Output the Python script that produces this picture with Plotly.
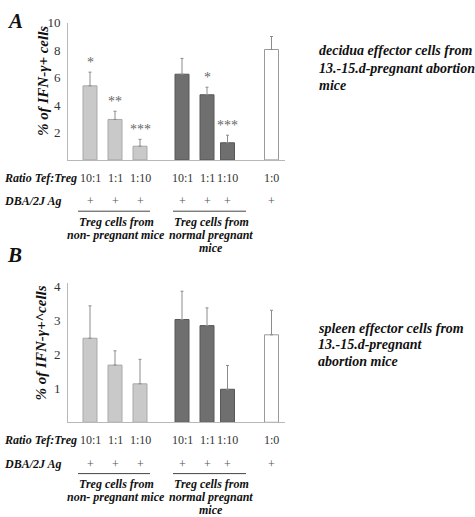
import plotly.graph_objects as go

# ---------------- data ----------------
ratio_labels = ["10:1", "1:1", "1:10", "10:1", "1:1", "1:10", "1:0"]
ag_labels = ["+", "+", "+", "+", "+", "+", "+"]
groups = ["non-pregnant", "non-pregnant", "non-pregnant",
          "normal pregnant", "normal pregnant", "normal pregnant", "control"]

a_values = [5.4, 2.95, 1.0, 6.25, 4.75, 1.25, 8.05]
a_errors = [1.0, 0.6, 0.5, 1.15, 0.55, 0.55, 0.95]
a_stars = ["*", "**", "***", "", "*", "***", ""]

b_values = [2.47, 1.68, 1.13, 3.02, 2.84, 0.97, 2.57]
b_errors = [0.95, 0.42, 0.72, 0.83, 0.52, 0.70, 0.72]

a_ticks = [2, 4, 6, 8, 10]
b_ticks = [1, 2, 3, 4]

a_title = "% of IFN-γ+ cells"
b_title = "% of IFN-γ+^cells"
a_side = ["decidua effector cells from", "13.-15.d-pregnant abortion", "mice"]
b_side = ["spleen effector cells from", "13.-15.d-pregnant", "abortion mice"]
group1_lines = ["Treg cells from", "non- pregnant mice"]
group2_lines = ["Treg cells from", "normal pregnant", "mice"]

# ---------------- layout helpers ----------------
W, H = 475, 517
slot_pos = [0, 1, 2, 3.68, 4.68, 5.5, 7.26]   # bar slot positions on x axis
color_map = {"non-pregnant": "#c9c9c9", "normal pregnant": "#6f6f6f", "control": "#ffffff"}
edge_map = {"non-pregnant": "#a9a9a9", "normal pregnant": "#585858", "control": "#9a9a9a"}
SERIF = "Liberation Serif"


def py(p):
    return 1 - p / H


def px(p):
    return p / W


fig = go.Figure()

panels = [
    dict(vals=a_values, errs=a_errors, xa="x", ya="y"),
    dict(vals=b_values, errs=b_errors, xa="x2", ya="y2"),
]
for p in panels:
    fig.add_trace(go.Bar(
        x=slot_pos, y=p["vals"], width=0.56,
        marker=dict(color=[color_map[g] for g in groups],
                    line=dict(color=[edge_map[g] for g in groups], width=1)),
        error_y=dict(type="data", array=p["errs"], arrayminus=[0] * len(p["errs"]),
                     symmetric=False, color="#8c8c8c", thickness=1, width=1.5),
        xaxis=p["xa"], yaxis=p["ya"], showlegend=False, hoverinfo="skip",
    ))

xdom = [px(68), px(285)]
xrange_ = [-0.88, 7.8]
axis_common = dict(showgrid=False, zeroline=False, showline=True, linecolor="#b8b8b8", linewidth=1)

fig.update_layout(
    width=W, height=H,
    margin=dict(l=0, r=0, t=0, b=0),
    paper_bgcolor="white", plot_bgcolor="white",
    bargap=0,
    font=dict(family=SERIF),
    xaxis=dict(domain=xdom, range=xrange_, showticklabels=False, ticks="", anchor="y", **axis_common),
    xaxis2=dict(domain=xdom, range=xrange_, showticklabels=False, ticks="", anchor="y2", **axis_common),
    yaxis=dict(domain=[py(155), py(16)], range=[0, 10], tickvals=a_ticks, anchor="x",
               tickfont=dict(family=SERIF, size=13, color="#333"), ticks="", ticklabelstandoff=4,
               **axis_common),
    yaxis2=dict(domain=[py(421), py(279.5)], range=[0, 4.1], tickvals=b_ticks, anchor="x2",
                tickfont=dict(family=SERIF, size=13, color="#333"), ticks="", ticklabelstandoff=4,
                **axis_common),
)

ann = []


def text(x, y, s, size=12, xanchor="center", angle=0):
    ann.append(dict(x=x, y=y, text="<b><i>" + s + "</i></b>", xref="paper", yref="paper",
                    showarrow=False, font=dict(family=SERIF, size=size, color="#111"),
                    xanchor=xanchor, yanchor="middle", textangle=angle))


# panel letters
text(px(5), py(14), "A", size=21, xanchor="left")
text(px(5), py(251), "B", size=21, xanchor="left")

# y axis titles
text(px(43), py(75), a_title, size=15, angle=-90)
text(px(41), py(341), b_title, size=15, angle=-90)

# stars above error bars (panel A)
for xs, v, e, s in zip(slot_pos, a_values, a_errors, a_stars):
    if s:
        ann.append(dict(x=xs, y=v + e, xref="x", yref="y", text=s, showarrow=False,
                        yanchor="bottom", yshift=0,
                        font=dict(family=SERIF, size=14, color="#666")))

for base in (0, 266):
    xa = "x" if base == 0 else "x2"
    # row labels
    text(px(2), py(173 + base), "Ratio Tef:Treg", size=12, xanchor="left")
    text(px(2), py(197 + base), "DBA/2J Ag", size=12, xanchor="left")
    for xs, r, ag in zip(slot_pos, ratio_labels, ag_labels):
        ann.append(dict(x=xs, y=py(173 + base), xref=xa, yref="paper", text=r, showarrow=False,
                        font=dict(family=SERIF, size=12, color="#333"), yanchor="middle"))
        ann.append(dict(x=xs, y=py(197 + base), xref=xa, yref="paper", text=ag, showarrow=False,
                        font=dict(family=SERIF, size=12, color="#555"), yanchor="middle"))
    # group underlines
    for x0, x1 in ((78, 150), (173, 246)):
        fig.add_shape(type="line", xref="paper", yref="paper",
                      x0=px(x0), x1=px(x1), y0=py(207 + base), y1=py(207 + base),
                      line=dict(color="#444", width=1))
    for i, s in enumerate(group1_lines):
        text(px(116), py(218 + base + 13 * i), s, size=12)
    for i, s in enumerate(group2_lines):
        text(px(211), py(218 + base + 13 * i), s, size=12)

# side texts
for i, s in enumerate(a_side):
    text(px(317), py(44 + 18 * i), s, size=14, xanchor="left")
for i, s in enumerate(b_side):
    text(px(316), py(326 + 16.5 * i), s, size=14, xanchor="left")

fig.update_layout(annotations=ann)
fig.write_html("out.html", config={"displayModeBar": False, "staticPlot": True})

# remove the browser's default page margin so the figure sits at the window origin
with open("out.html", encoding="utf-8") as fh:
    html = fh.read()
html = html.replace("<head>", "<head><style>html,body{margin:0;padding:0;overflow:hidden;}</style>", 1)
with open("out.html", "w", encoding="utf-8") as fh:
    fh.write(html)
